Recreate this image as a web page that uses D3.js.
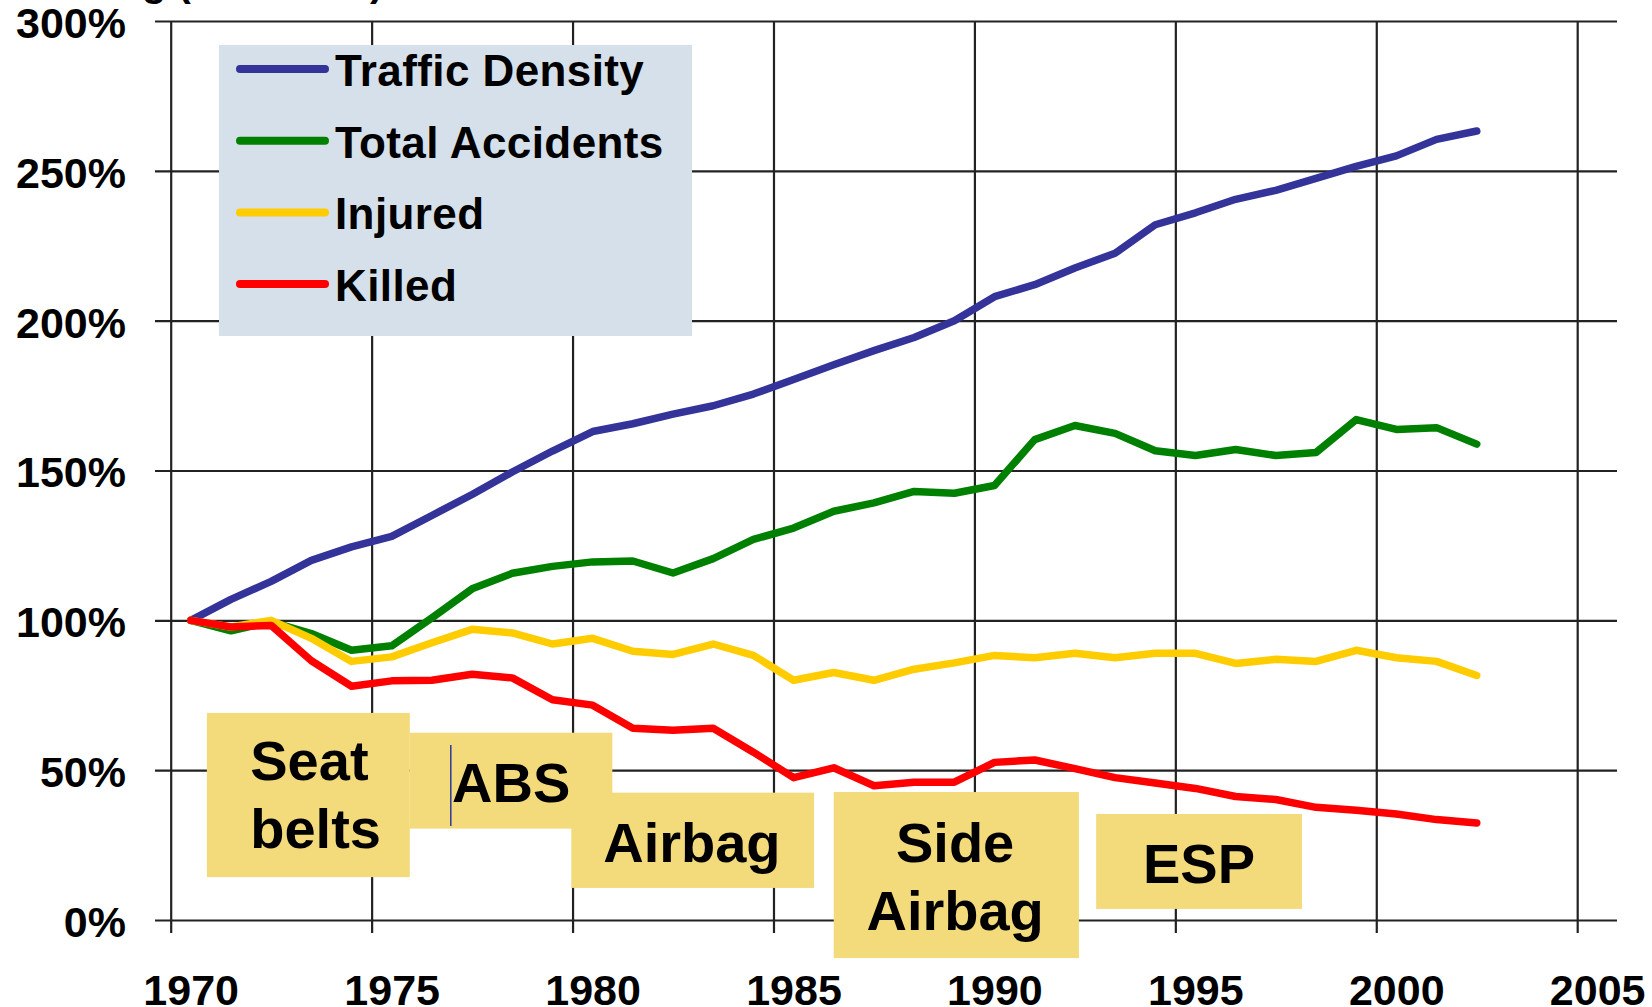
<!DOCTYPE html>
<html>
<head>
<meta charset="utf-8">
<script src="https://cdnjs.cloudflare.com/ajax/libs/d3/7.8.5/d3.min.js"></script>
<style>
  body { margin: 0; background: #fff; }
  text { font-family: "Liberation Sans", Arial, sans-serif; font-weight: bold; }
</style>
</head>
<body>
<svg></svg>
<script>
var years = [1970, 1971, 1972, 1973, 1974, 1975, 1976, 1977, 1978, 1979, 1980, 1981, 1982, 1983, 1984, 1985,
  1986, 1987, 1988, 1989, 1990, 1991, 1992, 1993, 1994, 1995, 1996, 1997, 1998, 1999, 2000, 2001, 2002];

var trafficDensity = [100, 107, 113, 120, 124.5, 128, 135, 142, 149.5, 156.5, 163, 165.6, 168.8, 171.6, 175.5,
  180.4, 185.3, 190, 194.4, 200, 208, 212, 217.6, 222.5, 232, 236, 240.5, 243.5, 247.5, 251.5, 255, 260.5, 263.3];
var totalAccidents = [100, 96.5, 99.5, 95.6, 90, 91.5, 100.8, 110.5, 115.7, 118, 119.5, 119.8, 115.8, 120.6, 127,
  130.8, 136.4, 139.2, 143, 142.4, 145, 160.3, 165, 162.4, 156.6, 155, 157, 155, 156, 167, 163.7, 164.3, 158.8];
var injured = [100, 97.8, 100, 94, 86.3, 87.8, 92.5, 97, 95.8, 92.1, 94, 89.7, 88.6, 92.1, 88.3, 80, 82.6, 80,
  83.7, 85.8, 88.3, 87.5, 89, 87.5, 89, 89, 85.6, 87, 86.3, 90, 87.5, 86.3, 81.6];
var killed = [100, 97.8, 98.3, 86.5, 78, 79.8, 80, 82, 80.8, 73.5, 71.7, 64, 63.3, 64, 56, 47.5, 50.8, 44.8, 46,
  46, 52.6, 53.4, 50.5, 47.5, 45.7, 43.9, 41.2, 40.2, 37.6, 36.6, 35.4, 33.5, 32.4];

var seriesNames = ['Traffic Density', 'Total Accidents', 'Injured', 'Killed'];
var yTicks = [0, 50, 100, 150, 200, 250, 300];
var xTicks = [1970, 1975, 1980, 1985, 1990, 1995, 2000, 2005];
var annotationLabels = [['Seat', 'belts'], ['ABS'], ['Airbag'], ['Side', 'Airbag'], ['ESP']];

var colors = ['#333399', '#008000', '#ffcc00', '#ff0000'];
var seriesValues = [trafficDensity, totalAccidents, injured, killed];

// annotation boxes placed in data units (years / percent)
var boxLayout = [
  {x0: 1970.9, x1: 1975.95, y0: 69.1, y1: 14.3, tx: 1971.98, ty: [46.7, 24.0], anchor: 'start'},
  {x0: 1975.95, x1: 1980.99, y0: 62.5, y1: 30.5, tx: 1977.0, ty: [39.4], anchor: 'start'},
  {x0: 1979.97, x1: 1986.01, y0: 42.5, y1: 10.7, tx: 1982.97, ty: [19.3], anchor: 'middle'},
  {x0: 1986.5, x1: 1992.6, y0: 42.7, y1: -12.7, tx: 1989.52, ty: [19.4, -3.3], anchor: 'middle'},
  {x0: 1993.03, x1: 1998.15, y0: 35.4, y1: 3.7, tx: 1995.59, ty: [12.4], anchor: 'middle'}
];

var svg = d3.select('svg')
            .attr('width', 1652)
            .attr('height', 1007);

var x = d3.scaleLinear().domain([1970, 2005]).range([170.7, 1577.2]);
var y = d3.scaleLinear().domain([0, 300]).range([920, 21]);

// cut-off title at the very top
svg.append('text')
   .attr('x', 2)
   .attr('y', -4)
   .attr('font-size', '40px')
   .attr('fill', '#000')
   .text('Indexing (1970=100)');

// horizontal grid + y labels
var yAxis = svg.append('g')
   .attr('transform', 'translate(155,0)')
   .call(d3.axisLeft(y).tickValues(yTicks).tickFormat(d => d + '%')
         .tickSize(-(1617 - 155)).tickPadding(29));
// vertical grid + x labels
var xAxis = svg.append('g')
   .attr('transform', 'translate(0,933)')
   .call(d3.axisBottom(x).tickValues(xTicks).tickFormat(d3.format('d'))
         .tickSize(-(933 - 21)).tickPadding(41));

[yAxis, xAxis].forEach(function(g){
  g.select('.domain').remove();
  g.selectAll('.tick line').attr('stroke', '#222').attr('stroke-width', 2.2);
  g.selectAll('.tick text')
   .attr('fill', '#000')
   .attr('font-size', '43px')
   .attr('font-family', '"Liberation Sans", Arial, sans-serif')
   .attr('font-weight', 'bold');
});
xAxis.selectAll('.tick text').attr('x', 20);
yAxis.selectAll('.tick text').attr('dy', '0.38em');

// legend box (opaque, covers gridlines)
var legend = svg.append('g');
legend.append('rect')
      .attr('x', 219).attr('y', 45)
      .attr('width', 473).attr('height', 291)
      .attr('fill', '#d6e0ea');
var rows = legend.selectAll('g.row')
      .data(seriesNames)
      .enter()
      .append('g')
      .attr('class', 'row')
      .attr('transform', (d, i) => 'translate(0,' + (69 + i * 71.7) + ')');
rows.append('line')
    .attr('x1', 240).attr('x2', 325)
    .attr('y1', 0).attr('y2', 0)
    .attr('stroke', (d, i) => colors[i])
    .attr('stroke-width', 8)
    .attr('stroke-linecap', 'round');
rows.append('text')
    .attr('x', 335)
    .attr('y', 17)
    .attr('font-size', '44px')
    .attr('letter-spacing', '0.4px')
    .attr('fill', '#000')
    .text(d => d);

// series lines
var line = d3.line()
             .x((d, i) => x(years[i] + 0.5))
             .y(d => y(d));
svg.selectAll('path.series')
   .data(seriesValues)
   .enter()
   .append('path')
   .attr('class', 'series')
   .attr('d', d => line(d))
   .attr('fill', 'none')
   .attr('stroke', (d, i) => colors[i])
   .attr('stroke-width', 7.5)
   .attr('stroke-linejoin', 'round')
   .attr('stroke-linecap', 'round');

// safety feature annotations
var notes = svg.selectAll('g.note')
   .data(boxLayout)
   .enter()
   .append('g')
   .attr('class', 'note');
notes.append('rect')
     .attr('x', d => x(d.x0))
     .attr('y', d => y(d.y0))
     .attr('width', d => x(d.x1) - x(d.x0))
     .attr('height', d => y(d.y1) - y(d.y0))
     .attr('fill', '#f3da7b');
notes.each(function(d, i){
  var g = d3.select(this);
  annotationLabels[i].forEach(function(word, k){
    g.append('text')
     .attr('x', x(d.tx))
     .attr('y', y(d.ty[k]))
     .attr('text-anchor', d.anchor)
     .attr('font-size', '56px')
     .attr('fill', '#000')
     .text(word);
  });
});
// stray text cursor in front of "ABS"
svg.append('line')
   .attr('x1', x(1976.97)).attr('x2', x(1976.97))
   .attr('y1', y(58.4)).attr('y2', y(31.4))
   .attr('stroke', '#2b3a9e')
   .attr('stroke-width', 1.5);
</script>
</body>
</html>
